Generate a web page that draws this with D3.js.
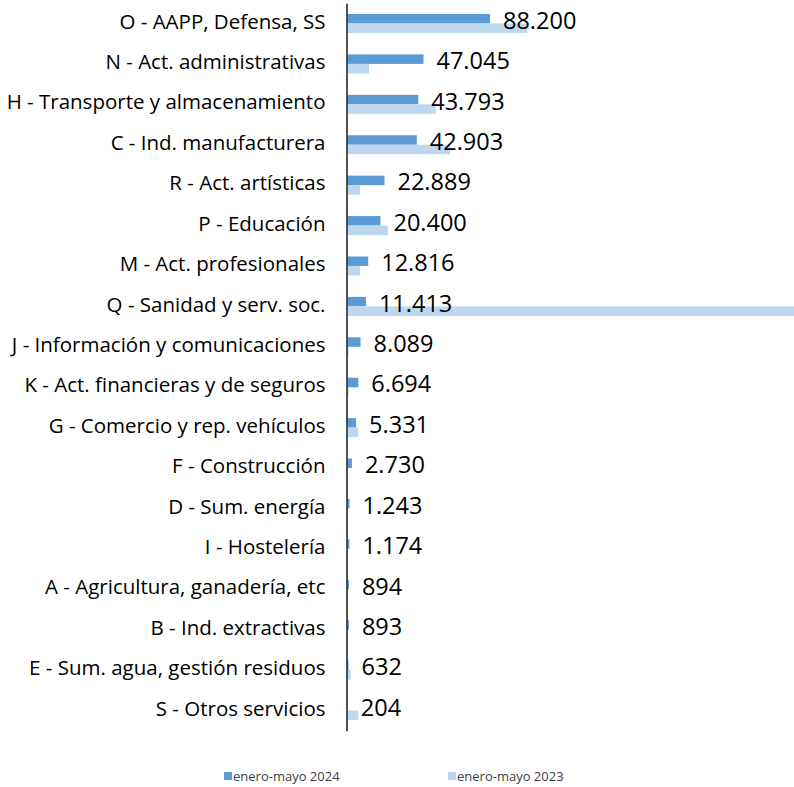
<!DOCTYPE html>
<html>
<head>
<meta charset="utf-8">
<script src="https://cdn.jsdelivr.net/npm/d3@7"></script>
<style>
  body { margin: 0; background: #fff; }
  svg { display: block; font-family: "Open Sans", Lato, sans-serif; }
</style>
</head>
<body>
<div id="chart"></div>
<script>
// Sectors, ordered as in the chart (largest 2024 value first)
const categories = [
    'O - AAPP, Defensa, SS',
    'N - Act. administrativas',
    'H - Transporte y almacenamiento',
    'C - Ind. manufacturera',
    'R - Act. artísticas',
    'P - Educación',
    'M - Act. profesionales',
    'Q - Sanidad y serv. soc.',
    'J - Información y comunicaciones',
    'K - Act. financieras y de seguros',
    'G - Comercio y rep. vehículos',
    'F - Construcción',
    'D - Sum. energía',
    'I - Hostelería',
    'A - Agricultura, ganadería, etc',
    'B - Ind. extractivas',
    'E - Sum. agua, gestión residuos',
    'S - Otros servicios'
];

// enero-mayo 2024 (labelled values)
const values2024 = [88200, 47045, 43793, 42903, 22889, 20400, 12816, 11413, 8089,
    6694, 5331, 2730, 1243, 1174, 894, 893, 632, 204];

// enero-mayo 2023
const values2023 = [111300, 13300, 54600, 63500, 7700, 24900, 7700, 285000, 700,
    700, 6700, 200, 200, 200, 300, 200, 2000, 6700];

const seriesNames = ['enero-mayo 2024', 'enero-mayo 2023'];
const seriesColors = ['#5B9BD5', '#BDD7EE'];

const width = 794;
const height = 787;

const svg = d3.select('#chart').append('svg')
    .attr('width', width)
    .attr('height', height);

const axisX = 346.5;

// Scales
const x = d3.scaleLinear()
    .domain([0, 88200])
    .range([axisX + 1, axisX + 1 + 142.5]);

const y = d3.scaleBand()
    .domain(categories)
    .range([3.3, 730.7])
    .paddingInner(0.53)
    .paddingOuter(0.265);

const ySub = d3.scaleBand()
    .domain(seriesNames)
    .range([0, y.bandwidth()]);

const rows = categories.map((c, i) => ({
    cat: c,
    vals: [values2024[i], values2023[i]]
}));

// Bars
const group = svg.selectAll('.row')
    .data(rows)
    .enter().append('g')
    .attr('class', 'row')
    .attr('transform', d => `translate(0,${y(d.cat)})`);

group.selectAll('rect')
    .data(d => d.vals.map((v, j) => ({ v, s: seriesNames[j], j })))
    .enter().append('rect')
    .attr('x', x(0))
    .attr('y', d => ySub(d.s))
    .attr('width', d => Math.max(0, x(d.v) - x(0)))
    .attr('height', ySub.bandwidth())
    .attr('fill', d => seriesColors[d.j]);

// Axis (vertical line + category labels)
const yAxis = svg.append('g')
    .attr('transform', `translate(${axisX},0)`)
    .call(d3.axisLeft(y).tickSize(0).tickPadding(21));

yAxis.select('.domain')
    .attr('stroke', '#1a1a1a')
    .attr('stroke-width', 1.5);

yAxis.selectAll('text')
    .attr('dy', '0.25em')
    .style('font-family', '"Open Sans", Lato, sans-serif')
    .style('font-size', '20.5px')
    .attr('fill', '#000');

// Value labels for 2024
const fmt = v => d3.format(',')(v).replace(/,/g, '.');

svg.selectAll('.value-label')
    .data(rows)
    .enter().append('text')
    .attr('class', 'value-label')
    .attr('x', d => x(d.vals[0]) + 13)
    .attr('y', d => y(d.cat) + ySub(seriesNames[0]) + ySub.bandwidth() / 2 + 1)
    .attr('dominant-baseline', 'central')
    .style('font-size', '23.5px')
    .attr('fill', '#000')
    .text(d => fmt(d.vals[0]));

// Legend
const legendX = [224, 448];
const legend = svg.selectAll('.legend')
    .data(seriesNames)
    .enter().append('g')
    .attr('class', 'legend')
    .attr('transform', (d, i) => `translate(${legendX[i]},772)`);

legend.append('rect')
    .attr('width', 8)
    .attr('height', 8)
    .attr('fill', (d, i) => seriesColors[i]);

legend.append('text')
    .attr('x', 9)
    .attr('y', 4)
    .attr('dominant-baseline', 'central')
    .style('font-size', '13px')
    .attr('fill', '#404040')
    .text(d => d);
</script>
</body>
</html>
